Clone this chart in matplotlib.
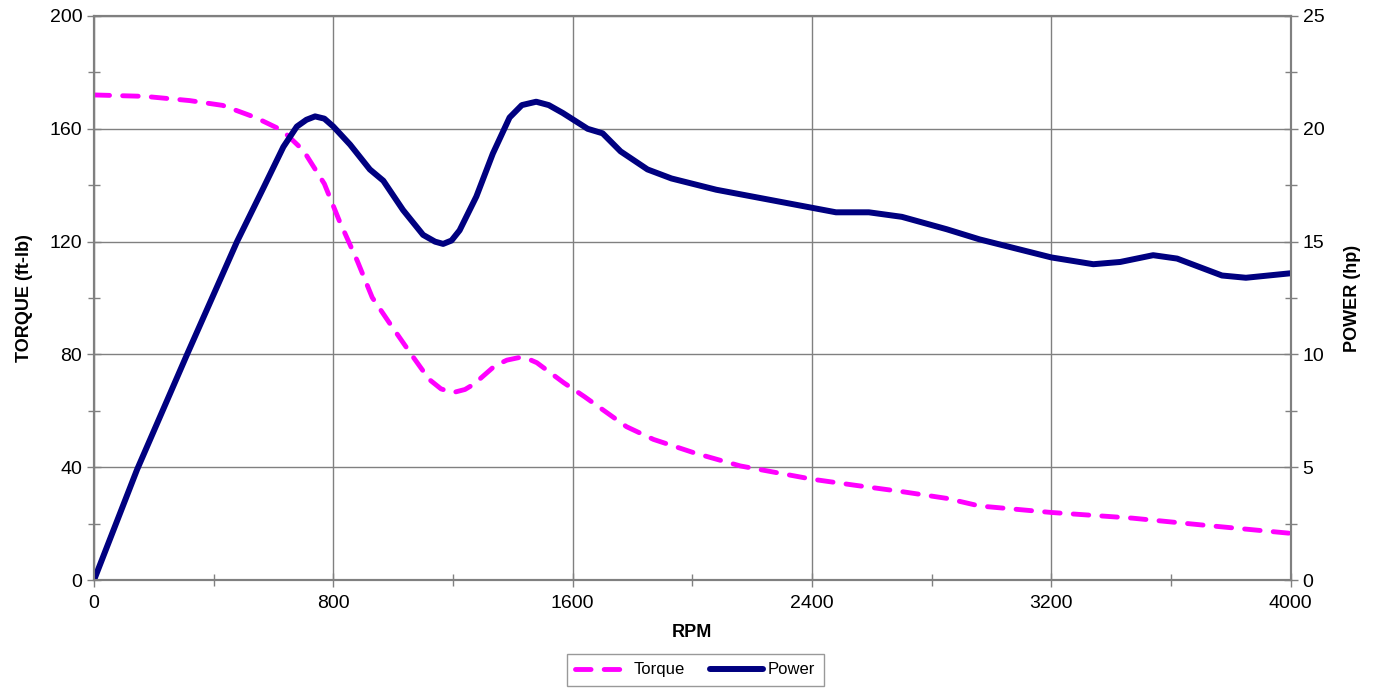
import matplotlib
matplotlib.use('Agg')
import matplotlib.pyplot as plt
from matplotlib.ticker import MultipleLocator

plt.rcParams['font.family'] = ['Liberation Sans', 'DejaVu Sans']

# torque curve (ft-lb)
torque_rpm = [0, 170, 320, 430, 540, 630, 700, 770, 820, 880, 930, 990, 1060, 1120, 1160,
              1200, 1240, 1270, 1340, 1380, 1420, 1450, 1480, 1570, 1640, 1780, 1870, 2010,
              2160, 2400, 2540, 2700, 2850, 2960, 3200, 3470, 3700, 4000]
torque = [172, 171.5, 170, 168.3, 164, 159.4, 152.3, 140.5, 127.4, 113.2, 100.2, 90.8, 80.1,
          71.2, 67.8, 66.5, 67.6, 69.5, 76, 78, 78.9, 78.5, 77.1, 70, 65, 54.4, 49.9, 45,
          40.5, 35.8, 33.7, 31.4, 29, 26.3, 24, 22, 19.6, 16.6]

# power curve (hp)
power_rpm = [0, 144, 311, 478, 567, 633, 678, 710, 739, 770, 800, 856, 922, 967, 1033, 1100,
             1140, 1167, 1195, 1222, 1278, 1333, 1389, 1430, 1478, 1520, 1567, 1650, 1700,
             1760, 1850, 1930, 2080, 2240, 2400, 2480, 2590, 2700, 2850, 2960, 3080, 3200,
             3340, 3430, 3540, 3620, 3770, 3850, 4000]
power = [0, 4.9, 10, 15, 17.4, 19.2, 20.1, 20.4, 20.55, 20.45, 20.1, 19.3, 18.2, 17.7, 16.4,
         15.3, 15.0, 14.9, 15.05, 15.5, 17, 18.9, 20.5, 21.05, 21.2, 21.05, 20.7, 20, 19.8,
         19, 18.2, 17.8, 17.3, 16.9, 16.5, 16.3, 16.3, 16.1, 15.55, 15.1, 14.7, 14.3, 14.0,
         14.1, 14.4, 14.25, 13.5, 13.4, 13.6]

fig = plt.figure(figsize=(13.82, 6.94), dpi=100)
ax = fig.add_axes([0.068, 0.164, 0.866, 0.813])
ax2 = ax.twinx()

l1, = ax.plot(torque_rpm, torque, color='#FF00FF', lw=3.5, linestyle=(0, (3.2, 2.7)),
              dash_capstyle='round', dash_joinstyle='round', label='Torque')
l2, = ax2.plot(power_rpm, power, color='#000080', lw=4.3, solid_joinstyle='round',
               solid_capstyle='round', label='Power')

ax.set_xlim(0, 4000)
ax.set_ylim(0, 200)
ax2.set_ylim(0, 25)
ax.xaxis.set_major_locator(MultipleLocator(800))
ax.xaxis.set_minor_locator(MultipleLocator(400))
ax.yaxis.set_major_locator(MultipleLocator(40))
ax.yaxis.set_minor_locator(MultipleLocator(20))
ax2.yaxis.set_major_locator(MultipleLocator(5))
ax2.yaxis.set_minor_locator(MultipleLocator(2.5))

ax.grid(True, which='major', color='#808080', lw=1)
ax.set_axisbelow(True)

for a in (ax, ax2):
    for s in a.spines.values():
        s.set_color('#808080')
        s.set_linewidth(1.5)
    a.tick_params(which='both', direction='inout', colors='#808080', labelcolor='black',
                  labelsize=14, width=1)
    a.tick_params(which='major', length=10)
    a.tick_params(which='minor', length=8)
ax.tick_params(axis='x', pad=6)

ax.set_xlabel('RPM', fontsize=13, fontweight='bold', labelpad=8)
ax.set_ylabel('TORQUE (ft-lb)', fontsize=13, fontweight='bold', labelpad=12)
ax2.set_ylabel('POWER (hp)', fontsize=13, fontweight='bold', labelpad=14)

leg = fig.legend([l1, l2], ['Torque', 'Power'], loc='lower center', ncol=2,
                 bbox_to_anchor=(0.503, 0.0), fontsize=12, frameon=True, fancybox=False,
                 edgecolor='#808080', handlelength=3.2, handletextpad=0.3,
                 columnspacing=1.5, borderpad=0.5)
leg.get_frame().set_linewidth(1)

fig.savefig('out.png', dpi=100)
